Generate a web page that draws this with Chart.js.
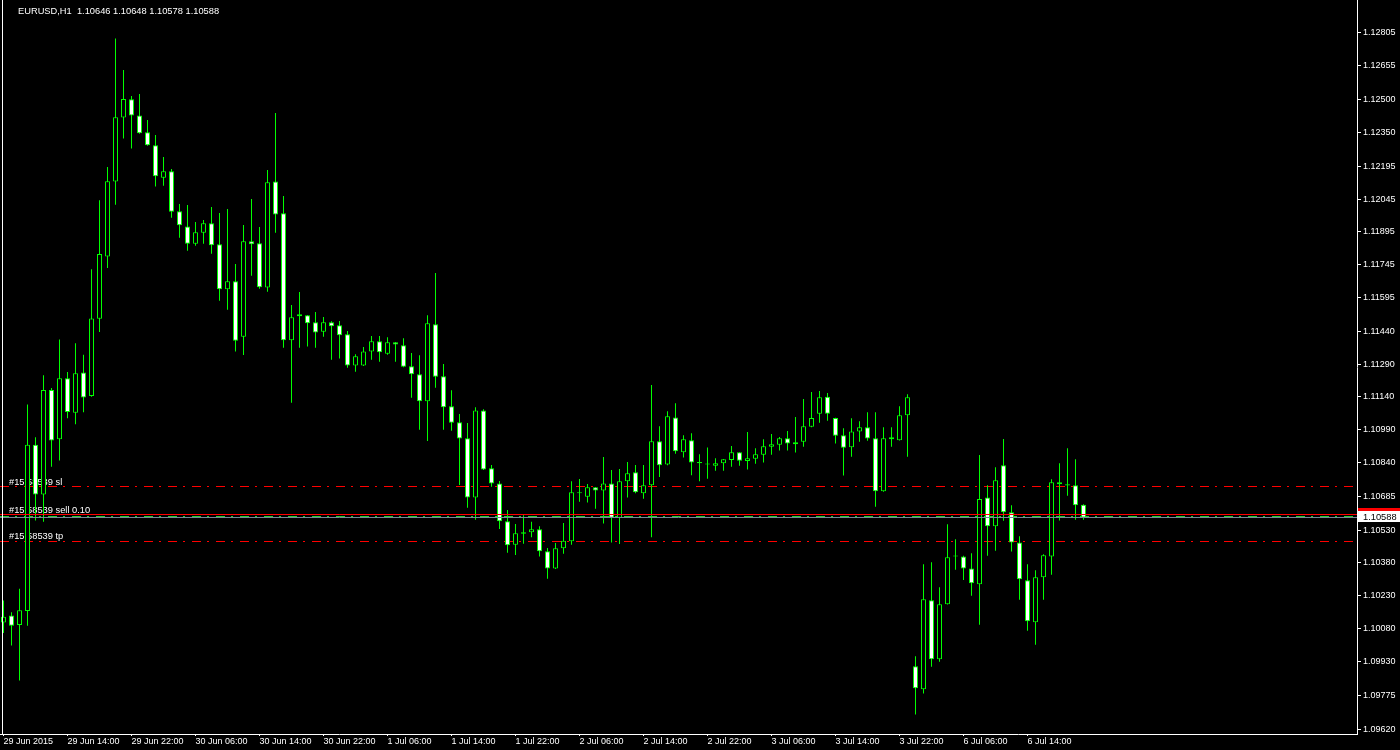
<!DOCTYPE html>
<html>
<head>
<meta charset="utf-8">
<script src="https://cdn.jsdelivr.net/npm/chart.js@4.4.1/dist/chart.umd.min.js"></script>
<style>
html, body { margin: 0; padding: 0; background: #000; }
#wrap { width: 1400px; height: 750px; }
</style>
</head>
<body>
<div id="wrap"><canvas id="chart" width="1400" height="750"></canvas></div>
<script>
// EURUSD H1, 29 Jun - 6 Jul 2015
var symbol = 'EURUSD,H1';
var timeLabels = ['29 Jun 2015', '29 Jun 14:00', '29 Jun 22:00', '30 Jun 06:00', '30 Jun 14:00',
    '30 Jun 22:00', '1 Jul 06:00', '1 Jul 14:00', '1 Jul 22:00', '2 Jul 06:00', '2 Jul 14:00',
    '2 Jul 22:00', '3 Jul 06:00', '3 Jul 14:00', '3 Jul 22:00', '6 Jul 06:00', '6 Jul 14:00'];
var priceTicks = [1.12805, 1.12655, 1.12500, 1.12350, 1.12195, 1.12045, 1.11895, 1.11745, 1.11595,
    1.11440, 1.11290, 1.11140, 1.10990, 1.10840, 1.10685, 1.10530, 1.10380, 1.10230, 1.10080,
    1.09930, 1.09775, 1.09620];

var opens = [1.10107, 1.10140, 1.10096, 1.10160, 1.10921, 1.10693, 1.11171, 1.10946, 1.11225, 1.11067,
    1.11252, 1.11144, 1.11497, 1.11782, 1.12125, 1.12418, 1.12502, 1.12428, 1.12351, 1.12291,
    1.12143, 1.12172, 1.11989, 1.11920, 1.11841, 1.11891, 1.11934, 1.11838, 1.11632, 1.11669,
    1.11415, 1.11852, 1.11843, 1.11640, 1.12126, 1.11980, 1.11399, 1.11509, 1.11513, 1.11481,
    1.11438, 1.11481, 1.11468, 1.11426, 1.11283, 1.11283, 1.11348, 1.11394, 1.11337, 1.11390,
    1.11376, 1.11280, 1.11243, 1.11120, 1.11472, 1.11234, 1.11097, 1.11024, 1.10951, 1.10679,
    1.11078, 1.10813, 1.10744, 1.10571, 1.10463, 1.10514, 1.10520, 1.10534, 1.10433, 1.10355,
    1.10447, 1.10479, 1.10699, 1.10683, 1.10726, 1.10712, 1.10744, 1.10587, 1.10754, 1.10795,
    1.10699, 1.10735, 1.10937, 1.10831, 1.11046, 1.10886, 1.10941, 1.10842, 1.10831, 1.10825,
    1.10836, 1.10851, 1.10886, 1.10847, 1.10857, 1.10875, 1.10912, 1.10921, 1.10950, 1.10923,
    1.10935, 1.11003, 1.11063, 1.11141, 1.11043, 1.10964, 1.10909, 1.10982, 1.11001, 1.10951,
    1.10708, 1.10946, 1.10941, 1.11056, 1.09907, 1.09802, 1.10209, 1.09939, 1.10191, 1.10409,
    1.10410, 1.10355, 1.10283, 1.10680, 1.10548, 1.10827, 1.10612, 1.10474, 1.10301, 1.10108,
    1.10314, 1.10410, 1.10749, 1.10740, 1.10735, 1.10646];
var highs = [1.10208, 1.10154, 1.10262, 1.11105, 1.10955, 1.11239, 1.11181, 1.11402, 1.11254, 1.11385,
    1.11333, 1.11724, 1.12040, 1.12192, 1.12780, 1.12636, 1.12517, 1.12526, 1.12407, 1.12338,
    1.12238, 1.12183, 1.12023, 1.12018, 1.11940, 1.11949, 1.12009, 1.11981, 1.12000, 1.11748,
    1.11926, 1.12045, 1.11917, 1.12178, 1.12439, 1.12059, 1.11560, 1.11620, 1.11514, 1.11528,
    1.11505, 1.11486, 1.11487, 1.11441, 1.11335, 1.11368, 1.11418, 1.11418, 1.11413, 1.11391,
    1.11408, 1.11341, 1.11330, 1.11513, 1.11707, 1.11290, 1.11170, 1.11062, 1.11020, 1.11092,
    1.11083, 1.10828, 1.10755, 1.10622, 1.10558, 1.10598, 1.10569, 1.10548, 1.10448, 1.10471,
    1.10563, 1.10754, 1.10764, 1.10741, 1.10727, 1.10865, 1.10805, 1.10810, 1.10842, 1.10828,
    1.10828, 1.11194, 1.11005, 1.11074, 1.11111, 1.10964, 1.10973, 1.10877, 1.10908, 1.10859,
    1.10856, 1.10915, 1.10887, 1.10979, 1.10905, 1.10946, 1.10970, 1.10956, 1.10984, 1.11048,
    1.11130, 1.11162, 1.11167, 1.11158, 1.11044, 1.10996, 1.11042, 1.11028, 1.11069, 1.11069,
    1.11001, 1.11001, 1.11097, 1.11152, 1.09953, 1.10374, 1.10383, 1.10269, 1.10557, 1.10488,
    1.10413, 1.10424, 1.10874, 1.10735, 1.10818, 1.10947, 1.10644, 1.10502, 1.10374, 1.10346,
    1.10420, 1.10763, 1.10836, 1.10905, 1.10854, 1.10648];
var lows = [1.10059, 1.10002, 1.09842, 1.10092, 1.10574, 1.10568, 1.10820, 1.10849, 1.11042, 1.11015,
    1.11069, 1.11140, 1.11437, 1.11730, 1.12019, 1.12322, 1.12276, 1.12344, 1.12289, 1.12102,
    1.12106, 1.11960, 1.11868, 1.11809, 1.11832, 1.11841, 1.11795, 1.11580, 1.11539, 1.11347,
    1.11332, 1.11694, 1.11635, 1.11621, 1.11891, 1.11365, 1.11113, 1.11365, 1.11370, 1.11365,
    1.11415, 1.11310, 1.11315, 1.11273, 1.11255, 1.11281, 1.11310, 1.11301, 1.11333, 1.11301,
    1.11276, 1.11136, 1.10990, 1.10938, 1.11182, 1.10990, 1.10985, 1.10737, 1.10633, 1.10578,
    1.10805, 1.10729, 1.10535, 1.10427, 1.10416, 1.10468, 1.10497, 1.10409, 1.10308, 1.10352,
    1.10422, 1.10463, 1.10660, 1.10656, 1.10628, 1.10560, 1.10474, 1.10467, 1.10679, 1.10699,
    1.10674, 1.10497, 1.10773, 1.10827, 1.10880, 1.10863, 1.10781, 1.10754, 1.10765, 1.10802,
    1.10802, 1.10820, 1.10825, 1.10807, 1.10834, 1.10840, 1.10875, 1.10894, 1.10894, 1.10885,
    1.10912, 1.11001, 1.11022, 1.11031, 1.10926, 1.10780, 1.10866, 1.10935, 1.10939, 1.10637,
    1.10706, 1.10912, 1.10940, 1.10866, 1.09687, 1.09783, 1.09905, 1.09928, 1.10190, 1.10349,
    1.10302, 1.10230, 1.10097, 1.10413, 1.10436, 1.10573, 1.10432, 1.10212, 1.10070, 1.10006,
    1.10212, 1.10326, 1.10574, 1.10688, 1.10578, 1.10578];
var closes = [1.10134, 1.10092, 1.10163, 1.10921, 1.10693, 1.11171, 1.10940, 1.11225, 1.11071, 1.11248,
    1.11137, 1.11499, 1.11794, 1.12127, 1.12420, 1.12503, 1.12428, 1.12346, 1.12291, 1.12149,
    1.12172, 1.11987, 1.11925, 1.11841, 1.11893, 1.11934, 1.11834, 1.11632, 1.11669, 1.11397,
    1.11852, 1.11838, 1.11641, 1.12122, 1.11975, 1.11399, 1.11504, 1.11518, 1.11477, 1.11435,
    1.11481, 1.11463, 1.11422, 1.11283, 1.11326, 1.11348, 1.11394, 1.11344, 1.11390, 1.11380,
    1.11278, 1.11243, 1.11120, 1.11477, 1.11232, 1.11092, 1.11022, 1.10949, 1.10679, 1.11078,
    1.10807, 1.10744, 1.10571, 1.10461, 1.10516, 1.10520, 1.10534, 1.10433, 1.10355, 1.10447,
    1.10482, 1.10703, 1.10703, 1.10726, 1.10712, 1.10744, 1.10587, 1.10754, 1.10790, 1.10703,
    1.10735, 1.10937, 1.10827, 1.11051, 1.10891, 1.10946, 1.10840, 1.10836, 1.10831, 1.10836,
    1.10854, 1.10886, 1.10848, 1.10859, 1.10877, 1.10914, 1.10923, 1.10950, 1.10926, 1.10932,
    1.11005, 1.11043, 1.11138, 1.11063, 1.10962, 1.10907, 1.10982, 1.11001, 1.10949, 1.10708,
    1.10951, 1.10955, 1.11056, 1.11138, 1.09806, 1.10214, 1.09939, 1.10191, 1.10406, 1.10409,
    1.10355, 1.10287, 1.10673, 1.10548, 1.10758, 1.10612, 1.10474, 1.10305, 1.10113, 1.10314,
    1.10415, 1.10749, 1.10740, 1.10734, 1.10644, 1.10588];

// trade levels
var ticket = '#15 58539';
var slPrice = 1.10732;
var tpPrice = 1.10479;
var orderPrice = 1.10595;
var askPrice = 1.10605;
var bidPrice = 1.10588;

var FONT = '9.3px "Liberation Sans", Arial, sans-serif';
var BARS_PER_LABEL = 8;

var wickData = [], bodyData = [], bodyFill = [];
for (var i = 0; i < opens.length; i++) {
    wickData.push({x: i, y: [lows[i], highs[i]]});
    bodyData.push({x: i, y: [opens[i], closes[i]]});
    bodyFill.push(closes[i] < opens[i] ? '#ffffff' : '#000000');
}

function hline(ctx, area, y, color, dash) {
    y = Math.round(y) + 0.5;
    ctx.beginPath();
    ctx.setLineDash(dash || []);
    ctx.strokeStyle = color;
    ctx.lineWidth = 1;
    ctx.moveTo(area.left, y);
    ctx.lineTo(area.right, y);
    ctx.stroke();
    ctx.setLineDash([]);
}

var tradeLevels = {
    id: 'tradeLevels',
    beforeDatasetsDraw: function(chart) {
        var ctx = chart.ctx, a = chart.chartArea, ys = chart.scales.y;
        var ySl = ys.getPixelForValue(slPrice);
        var yTp = ys.getPixelForValue(tpPrice);
        var yOrd = ys.getPixelForValue(orderPrice);
        ctx.save();
        hline(ctx, a, ySl, '#ff0000', [9, 6, 2, 7]);
        hline(ctx, a, yTp, '#ff0000', [9, 6, 2, 7]);
        hline(ctx, a, yOrd, '#32cd32', [9, 6, 2, 7]);
        ctx.font = FONT;
        ctx.fillStyle = '#ffffff';
        ctx.textBaseline = 'alphabetic';
        ctx.fillText(ticket + ' sl', 9, Math.round(ySl) - 1);
        ctx.fillText(ticket + ' sell 0.10', 9, Math.round(yOrd) - 3);
        ctx.fillText(ticket + ' tp', 9, Math.round(yTp) - 2);
        ctx.restore();
    },
    afterDatasetsDraw: function(chart) {
        var ctx = chart.ctx, a = chart.chartArea, ys = chart.scales.y;
        ctx.save();
        hline(ctx, a, ys.getPixelForValue(askPrice), '#ff0000');
        hline(ctx, a, ys.getPixelForValue(bidPrice), '#778899');
        // left border line
        ctx.fillStyle = '#ffffff';
        ctx.fillRect(2, a.top, 1, a.bottom - a.top);
        ctx.restore();
    },
    afterDraw: function(chart) {
        var ctx = chart.ctx, a = chart.chartArea, ys = chart.scales.y;
        var yAsk = Math.round(ys.getPixelForValue(askPrice));
        var yBid = Math.round(ys.getPixelForValue(bidPrice));
        ctx.save();
        ctx.fillStyle = '#ff0000';
        ctx.fillRect(a.right + 1, yAsk - 6, chart.width - a.right, 11);
        ctx.fillStyle = '#ffffff';
        ctx.fillRect(a.right + 1, yBid - 6, chart.width - a.right, 11);
        ctx.font = FONT;
        ctx.fillStyle = '#000000';
        ctx.textBaseline = 'middle';
        ctx.fillText(bidPrice.toFixed(5), a.right + 6, yBid);
        // header
        ctx.fillStyle = '#ffffff';
        ctx.textBaseline = 'alphabetic';
        ctx.fillText(symbol + '  ' + opens[opens.length - 1].toFixed(5) + ' ' +
            highs[highs.length - 1].toFixed(5) + ' ' + lows[lows.length - 1].toFixed(5) + ' ' +
            closes[closes.length - 1].toFixed(5), 18, 14);
        ctx.restore();
    }
};

var tickFont = {family: '"Liberation Sans", Arial, sans-serif', size: 9};

function noPadding(s) {
    s.paddingTop = 0;
    s.paddingBottom = 0;
    s.paddingLeft = 0;
    s.paddingRight = 0;
}

new Chart(document.getElementById('chart'), {
    type: 'bar',
    data: {
        datasets: [{
            data: wickData,
            backgroundColor: '#00ff00',
            borderWidth: 0,
            barThickness: 1,
            grouped: false,
            inflateAmount: 0,
            order: 2
        }, {
            data: bodyData,
            backgroundColor: bodyFill,
            borderColor: '#00ff00',
            borderWidth: 1,
            borderSkipped: false,
            barThickness: 5,
            minBarLength: 1,
            grouped: false,
            inflateAmount: 0,
            order: 1
        }]
    },
    options: {
        responsive: false,
        animation: false,
        devicePixelRatio: 1,
        layout: {padding: 0},
        plugins: {legend: {display: false}, tooltip: {enabled: false}},
        scales: {
            x: {
                type: 'linear',
                min: -0.4375,
                max: 169.1875,
                offset: false,
                afterBuildTicks: function(s) {
                    s.ticks = timeLabels.map(function(t, i) { return {value: i * BARS_PER_LABEL}; });
                },
                afterFit: function(s) { s.height = 16; noPadding(s); },
                ticks: {
                    color: '#ffffff',
                    font: tickFont,
                    align: 'start',
                    autoSkip: false,
                    maxRotation: 0,
                    padding: 0,
                    callback: function(v, i) { return timeLabels[i]; }
                },
                grid: {offset: false, drawOnChartArea: false, tickLength: 2, color: '#ffffff', tickColor: '#ffffff'},
                border: {display: true, color: '#ffffff'}
            },
            y: {
                position: 'right',
                min: 1.095972,
                max: 1.12956,
                afterBuildTicks: function(s) {
                    s.ticks = priceTicks.map(function(v) { return {value: v}; });
                },
                afterFit: function(s) { s.width = 43; noPadding(s); },
                ticks: {
                    color: '#ffffff',
                    font: tickFont,
                    padding: 2,
                    callback: function(v, i) { return priceTicks[i].toFixed(5); }
                },
                grid: {drawOnChartArea: false, tickLength: 4, color: '#ffffff', tickColor: '#ffffff'},
                border: {display: true, color: '#ffffff'}
            }
        }
    },
    plugins: [tradeLevels]
});
</script>
</body>
</html>
